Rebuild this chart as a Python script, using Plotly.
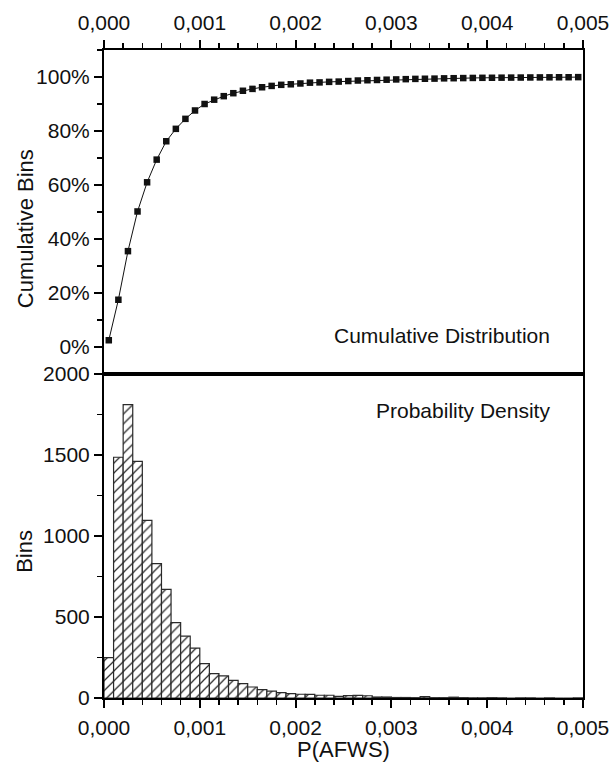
import plotly.graph_objects as go

# ---- data ----
bin_centers = [round(0.00005 + 0.0001 * i, 5) for i in range(50)]
bin_counts = [249, 1486, 1811, 1461, 1096, 829, 670, 465, 382, 308,
              212, 150, 136, 109, 89, 68, 52, 43, 33, 27,
              23, 22, 17, 17, 10, 15, 16, 14, 6, 6,
              3, 3, 2, 8, 2, 2, 5, 2, 1, 1,
              2, 1, 0, 1, 1, 0, 1, 0, 0, 1]
cumulative_pct = [2.5, 17.5, 35.5, 50.2, 61.0, 69.4, 76.2, 80.8, 84.5, 87.6,
                  90.0, 91.6, 92.9, 94.0, 94.9, 95.6, 96.2, 96.7, 97.1, 97.3,
                  97.6, 97.9, 98.0, 98.2, 98.3, 98.5, 98.7, 98.8, 98.9, 99.0,
                  99.1, 99.2, 99.3, 99.35, 99.4, 99.5, 99.55, 99.6, 99.65, 99.7,
                  99.72, 99.75, 99.78, 99.8, 99.83, 99.85, 99.88, 99.9, 99.92, 99.95]
x_tickvals = [0.0, 0.001, 0.002, 0.003, 0.004, 0.005]
x_ticktext = ["0,000", "0,001", "0,002", "0,003", "0,004", "0,005"]
cum_tickvals = [0, 20, 40, 60, 80, 100]
cum_ticktext = ["0%", "20%", "40%", "60%", "80%", "100%"]
bins_tickvals = [0, 500, 1000, 1500, 2000]
bins_ticktext = ["0", "500", "1000", "1500", "2000"]

FONT = "Liberation Sans, Arial, sans-serif"
TXT = "#111111"
TICKFONT = dict(family=FONT, size=21, color=TXT)

fig = go.Figure()

fig.add_trace(go.Bar(
    x=bin_centers, y=bin_counts, width=0.0001,
    marker=dict(color="white",
                line=dict(color="#2a2a2a", width=1.2),
                pattern=dict(shape="/", fgcolor="#2a2a2a", bgcolor="white",
                             size=7, solidity=0.18)),
    xaxis="x", yaxis="y", showlegend=False))

fig.add_trace(go.Scatter(
    x=bin_centers, y=cumulative_pct, mode="lines+markers",
    line=dict(color="#111111", width=1),
    marker=dict(symbol="square", size=6.5, color="#111111"),
    xaxis="x2", yaxis="y2", showlegend=False))

common_x = dict(range=[0, 0.005], tickmode="array", tickvals=x_tickvals,
                ticktext=x_ticktext, ticks="outside", ticklen=8, tickwidth=2,
                tickcolor="black", showline=True, linecolor="black", linewidth=2,
                mirror=True, showgrid=False, zeroline=False, tickfont=TICKFONT,
                automargin=False, ticklabelstandoff=2,
                minor=dict(dtick=0.0002, tick0=0, ticks="outside", ticklen=5,
                           tickwidth=1.5, tickcolor="black", showgrid=False))

fig.update_layout(
    template="none",
    width=616, height=772,
    margin=dict(l=104, r=33, t=50, b=74),
    paper_bgcolor="white", plot_bgcolor="white",
    bargap=0,
    separators=", ",
    xaxis=dict(domain=[0, 1], anchor="y", side="bottom", **common_x),
    yaxis=dict(domain=[0, 0.5], anchor="x", range=[0, 2000],
               tickmode="array", tickvals=bins_tickvals, ticktext=bins_ticktext,
               ticks="outside", ticklen=8, tickwidth=2, tickcolor="black",
               showline=True, linecolor="black", linewidth=2, mirror=True,
               showgrid=False, zeroline=False, tickfont=TICKFONT, automargin=False,
               minor=dict(dtick=250, tick0=0, ticks="outside", ticklen=5,
                          tickwidth=1.5, tickcolor="black", showgrid=False)),
    xaxis2=dict(domain=[0, 1], anchor="y2", side="top", **common_x),
    yaxis2=dict(domain=[0.5, 1], anchor="x2", range=[-10, 110],
                tickmode="array", tickvals=cum_tickvals, ticktext=cum_ticktext,
                ticks="outside", ticklen=8, tickwidth=2, tickcolor="black",
                showline=True, linecolor="black", linewidth=2, mirror=True,
                showgrid=False, zeroline=False, tickfont=TICKFONT, automargin=False,
                minor=dict(dtick=10, tick0=0, ticks="outside", ticklen=5,
                           tickwidth=1.5, tickcolor="black", showgrid=False)),
)

ann_font = dict(family=FONT, size=21, color=TXT)
fig.add_annotation(text="Cumulative Distribution", xref="paper", yref="paper",
                   x=0.935, y=0.560, xanchor="right", yanchor="middle",
                   showarrow=False, font=ann_font)
fig.add_annotation(text="Probability Density", xref="paper", yref="paper",
                   x=0.935, y=0.443, xanchor="right", yanchor="middle",
                   showarrow=False, font=ann_font)
fig.add_annotation(text="Cumulative Bins", xref="paper", yref="paper",
                   x=-0.165, y=0.725, xanchor="center", yanchor="middle",
                   textangle=-90, showarrow=False, font=dict(family=FONT, size=22, color=TXT))
fig.add_annotation(text="Bins", xref="paper", yref="paper",
                   x=-0.165, y=0.227, xanchor="center", yanchor="middle",
                   textangle=-90, showarrow=False, font=dict(family=FONT, size=22, color=TXT))
fig.add_annotation(text="P(AFWS)", xref="paper", yref="paper",
                   x=0.499, y=-0.080, xanchor="center", yanchor="middle",
                   showarrow=False, font=dict(family=FONT, size=22, color=TXT))

fig.write_html("out.html",
               config={"displayModeBar": False, "staticPlot": True},
               post_script="document.body.style.margin='0';document.body.style.overflow='hidden';")
